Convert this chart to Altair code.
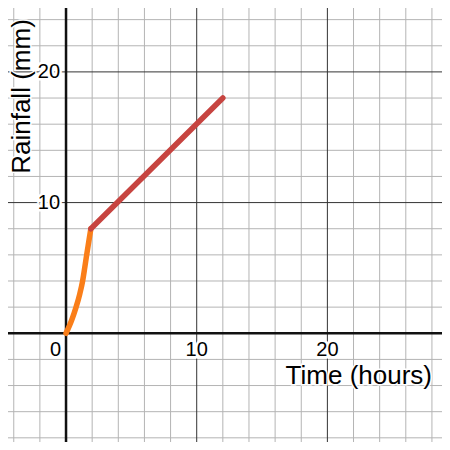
import altair as alt
import pandas as pd

# ---- data ----
X_DOMAIN = [-4.44, 28.77]
Y_DOMAIN = [-8.32, 24.89]

minor_x = [-4, -2, 2, 4, 6, 8, 12, 14, 16, 18, 22, 24, 26, 28]
minor_y = [-8, -6, -4, -2, 2, 4, 6, 8, 12, 14, 16, 18, 22, 24]
major_x = [10, 20]
major_y = [10, 20]
axis_x = [0]
axis_y = [0]

x_tick_values = [10, 20]
x_tick_labels = ["10", "20"]
y_tick_values = [10, 20]
y_tick_labels = ["10", "20"]
origin_labels = ["0"]

orange_time = [0, 0.43, 0.77, 1.05, 1.27, 1.43, 1.58, 1.74, 1.9]
orange_rain = [0, 1, 2, 3, 4, 5, 6, 7, 8]
red_time = [1.9, 12]
red_rain = [8, 18]

x_title = "Time (hours)"
y_title = "Rainfall (mm)"

FONT = "Liberation Sans"
xs = alt.Scale(domain=X_DOMAIN, nice=False, zero=False)
ys = alt.Scale(domain=Y_DOMAIN, nice=False, zero=False)


def vrules(vals, color, width):
    return alt.Chart(pd.DataFrame({"v": vals})).mark_rule(
        color=color, strokeWidth=width
    ).encode(x=alt.X("v:Q", scale=xs, axis=None))


def hrules(vals, color, width):
    return alt.Chart(pd.DataFrame({"v": vals})).mark_rule(
        color=color, strokeWidth=width
    ).encode(y=alt.Y("v:Q", scale=ys, axis=None))


def curve(t, r, color):
    return alt.Chart(pd.DataFrame({"t": t, "r": r})).mark_line(
        color=color, strokeWidth=5.5, strokeCap="round", strokeJoin="round",
        interpolate="monotone", clip=True
    ).encode(
        x=alt.X("t:Q", scale=xs, axis=None),
        y=alt.Y("r:Q", scale=ys, axis=None),
        order="t:Q",
    )


def haloed(df, xf, yf, halo_width=5, **kw):
    layers = []
    for halo in (True, False):
        props = dict(kw)
        if halo:
            props.update(stroke="white", strokeWidth=halo_width, fill="white")
        else:
            props.update(fill="black")
        ch = alt.Chart(df).mark_text(font=FONT, **props)
        enc = {"text": "label:N"}
        if xf:
            enc["x"] = alt.X(xf, scale=xs, axis=None)
        if yf:
            enc["y"] = alt.Y(yf, scale=ys, axis=None)
        layers.append(ch.encode(**enc))
    return layers


xlab = pd.DataFrame({"v": x_tick_values, "p": [0] * len(x_tick_values), "label": x_tick_labels})
ylab = pd.DataFrame({"v": y_tick_values, "p": [0] * len(y_tick_values), "label": y_tick_labels})
olab = pd.DataFrame({"v": [0], "p": [0], "label": origin_labels})

layers = [
    vrules(minor_x, "#b4b4b4", 1),
    hrules(minor_y, "#b4b4b4", 1),
    vrules(major_x, "#333333", 1),
    hrules(major_y, "#333333", 1),
    vrules(axis_x, "#111111", 2.5),
    hrules(axis_y, "#111111", 2.5),
]
layers += haloed(xlab, "v:Q", "p:Q", align="center", baseline="middle", dy=17, fontSize=20)
layers += haloed(olab, "v:Q", "p:Q", align="right", baseline="middle", dx=-5, dy=17, fontSize=20)
layers += haloed(ylab, "p:Q", "v:Q", align="right", baseline="middle", dx=-6, fontSize=20)
layers += haloed(pd.DataFrame({"label": [x_title]}), None, None, halo_width=3,
                 align="right", baseline="alphabetic", x=424, y=376, fontSize=26)
layers += haloed(pd.DataFrame({"label": [y_title]}), None, None, halo_width=3,
                 align="center", baseline="bottom", angle=270, x=27, y=88.5, fontSize=26)
layers += [
    curve(orange_time, orange_rain, "#fa7e19"),
    curve(red_time, red_rain, "#c74440"),
]

chart = alt.layer(*layers).properties(
    width=434, height=434, padding=0,
    autosize=alt.AutoSizeParams(type="none"),
    background="white",
).configure_view(stroke=None)

chart.save("out.html", embed_options={"renderer": "svg", "actions": False})
